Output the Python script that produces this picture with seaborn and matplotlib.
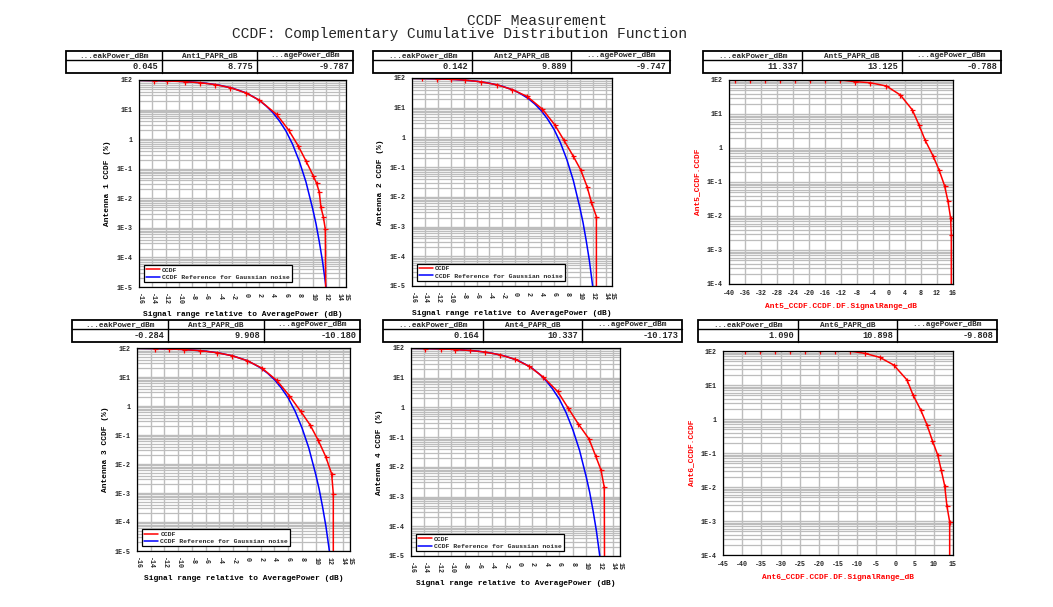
import matplotlib
matplotlib.use("Agg")
import matplotlib.pyplot as plt
import seaborn as sns
from matplotlib.lines import Line2D
from matplotlib.patches import Rectangle
from matplotlib.ticker import FixedLocator, MultipleLocator, LogLocator, NullFormatter

# ---------------- data ----------------
# Gaussian-noise reference curve (blue), same in the four antenna plots
ref_x = [-16, -14, -12, -10, -8, -6, -4, -2, 0, 1, 2, 3, 4, 5, 6, 7, 8, 9, 10, 10.5, 11, 11.5, 12]
ref_y = [97.5, 96, 94, 90.5, 85, 78, 67, 53, 37, 28, 20.5, 13.5, 8.1, 4.2, 1.9, 0.67, 0.18,
         0.036, 0.0045, 0.0014, 0.00034, 0.00007, 0.00001]

ant1_x = [-16, -13.75, -11.8, -9.15, -6.9, -4.6, -2.3, -0.05, 2.0, 4.6, 6.4, 7.85, 9.0, 10.1,
          10.6, 11.0, 11.25, 11.6, 11.9, 11.95]
ant1_y = [97.5, 95.5, 93, 88, 81, 70, 55, 37, 21, 6.9, 2.05, 0.59, 0.184, 0.057, 0.032, 0.016,
          0.0049, 0.0024, 0.0009, 0.00001]

ant2_x = [-16, -14.45, -12.07, -9.9, -7.83, -5.25, -2.82, -0.44, 1.83, 4.2, 6.12, 7.51, 8.96,
          10.15, 11.13, 11.8, 12.58, 12.58]
ant2_y = [97.5, 96.5, 94, 90, 85, 74, 59, 40.5, 24, 9.0, 2.67, 0.83, 0.241, 0.081, 0.0223,
          0.0066, 0.00217, 0.00001]

ant3_x = [-16, -13.34, -11.4, -9.22, -6.8, -4.38, -2.2, -0.02, 2.16, 4.34, 6.18, 7.83, 9.18,
          10.39, 11.46, 12.33, 12.57, 12.57]
ant3_y = [97.5, 95.5, 93, 88.5, 81, 69, 54.5, 37, 20.4, 7.64, 2.26, 0.65, 0.225, 0.0647, 0.0181,
          0.00457, 0.00093, 0.00001]

ant4_x = [-16, -13.92, -11.55, -9.47, -7.25, -5.03, -2.8, -0.58, 1.55, 3.62, 5.75, 7.33, 8.81,
          10.4, 11.39, 12.18, 12.67, 12.7]
ant4_y = [97.5, 96, 93, 89, 82.5, 73, 59, 41.8, 24, 10.5, 3.44, 0.94, 0.279, 0.0869, 0.0232,
          0.0078, 0.00203, 0.00001]

ant5_x = [-40, -38.6, -34.8, -31.1, -27.3, -23.6, -19.8, -16.1, -12.3, -8.4, -4.83, -0.67, 2.83,
          5.83, 7.5, 9.0, 11.0, 12.5, 13.9, 14.75, 15.4, 15.58, 15.58]
ant5_y = [100, 100, 100, 100, 100, 100, 100, 100, 100, 89.4, 83.5, 66.7, 36.3, 13.2, 4.77, 1.73,
          0.587, 0.228, 0.0773, 0.0269, 0.0087, 0.00282, 0.0001]

ant6_x = [-40.5, -39.35, -35.4, -31.5, -27.6, -23.7, -19.8, -15.9, -12.0, -8.04, -4.13, -0.48,
          3.0, 4.57, 6.57, 8.22, 9.61, 11.0, 11.96, 12.83, 13.43, 14.13, 14.13]
ant6_y = [100, 100, 100, 100, 100, 100, 100, 100, 100, 85.4, 65.2, 38.8, 14.1, 5.1, 1.85, 0.671,
          0.233, 0.0883, 0.0306, 0.0109, 0.00268, 0.00095, 0.0001]

table_headers = [
    ["...eakPower_dBm", "Ant1_PAPR_dB", "...agePower_dBm"],
    ["...eakPower_dBm", "Ant2_PAPR_dB", "...agePower_dBm"],
    ["...eakPower_dBm", "Ant5_PAPR_dB", "...agePower_dBm"],
    ["...eakPower_dBm", "Ant3_PAPR_dB", "...agePower_dBm"],
    ["...eakPower_dBm", "Ant4_PAPR_dB", "...agePower_dBm"],
    ["...eakPower_dBm", "Ant6_PAPR_dB", "...agePower_dBm"],
]
table_values = [
    ["0.045", "8.775", "-9.787"],
    ["0.142", "9.889", "-9.747"],
    ["11.337", "13.125", "-0.788"],
    ["-0.284", "9.908", "-10.180"],
    ["0.164", "10.337", "-10.173"],
    ["1.090", "10.898", "-9.808"],
]

left_xticks = [-16, -14, -12, -10, -8, -6, -4, -2, 0, 2, 4, 6, 8, 10, 12, 14, 15]
ant5_xticks = [-40, -36, -32, -28, -24, -20, -16, -12, -8, -4, 0, 4, 8, 12, 16]
ant6_xticks = [-45, -40, -35, -30, -25, -20, -15, -10, -5, 0, 5, 10, 15]
left_ydec = [100, 10, 1, 1e-1, 1e-2, 1e-3, 1e-4, 1e-5]
left_ylabels = ["1E2", "1E1", "1", "1E-1", "1E-2", "1E-3", "1E-4", "1E-5"]
right_ydec = [100, 10, 1, 1e-1, 1e-2, 1e-3, 1e-4]
right_ylabels = ["1E2", "1E1", "1", "1E-1", "1E-2", "1E-3", "1E-4"]

# ---------------- style ----------------
sns.set_style("white")
plt.rcParams['font.family'] = ['Liberation Mono', 'DejaVu Sans Mono']
plt.rcParams['font.weight'] = 'bold'

W, H = 1053, 607
fig = plt.figure(figsize=(W / 100, H / 100), dpi=100)
RED, BLUE = '#ff0000', '#0000ff'
GRID = '#bdbdbd'


def px_axes(x0, y0, x1, y1):
    return fig.add_axes([x0 / W, 1 - y1 / H, (x1 - x0) / W, (y1 - y0) / H])


def draw_table(box, headers, values):
    x0, y0, ydiv, x1, y1 = box
    ax = px_axes(x0, y0, x1, y1)
    ax.set_xlim(0, 3)
    ax.set_ylim(0, 1)
    ax.axis('off')
    frac = (y1 - ydiv) / (y1 - y0)
    ax.add_patch(Rectangle((0, 0), 3, 1, fill=False, lw=1.3, ec='black', clip_on=False))
    ax.plot([0, 3], [frac, frac], color='black', lw=1.0, clip_on=False)
    for i in (1, 2):
        ax.plot([i, i], [0, 1], color='black', lw=1.0, clip_on=False)
    for i, (h, v) in enumerate(zip(headers, values)):
        ax.text(i + 0.5, (1 + frac) / 2, h, ha='center', va='center', fontsize=5.6, weight='bold')
        ax.text(i + 0.96, frac / 2, v, ha='right', va='center', fontsize=6.2, weight='bold')


def draw_panel(box, cx, cy, xlim, xticks, ylow, ydec, ylabels, xlabel, ylabel,
               with_ref, rotate, lab_color, legend_anchor=None):
    ax = px_axes(*box)
    ax.set_yscale('log')
    ax.set_xlim(*xlim)
    ax.set_ylim(ylow, 100)
    ax.yaxis.set_major_locator(FixedLocator(ydec))
    ax.set_yticklabels(ylabels)
    ax.yaxis.set_minor_locator(LogLocator(base=10, subs=[2, 3, 4, 5, 6, 7, 8, 9], numticks=20))
    ax.yaxis.set_minor_formatter(NullFormatter())
    ax.xaxis.set_major_locator(FixedLocator(xticks))
    ax.set_xticklabels([str(t) for t in xticks])
    ax.xaxis.set_minor_locator(MultipleLocator(1))
    ax.grid(True, which='major', color=GRID, lw=1.0)
    ax.grid(True, which='minor', axis='y', color=GRID, lw=0.9)
    ax.set_axisbelow(True)
    ax.tick_params(axis='both', which='major', direction='out', length=3, width=0.8,
                   labelsize=4.8, pad=1.5, color='black')
    ax.tick_params(axis='both', which='minor', direction='out', length=1.5, width=0.6,
                   color='black')
    if rotate:
        for lab in ax.get_xticklabels():
            lab.set_rotation(-90)
    for s in ax.spines.values():
        s.set_color('black')
        s.set_linewidth(0.9)
    if with_ref:
        sns.lineplot(x=ref_x, y=ref_y, ax=ax, color=BLUE, lw=1.1, sort=False,
                     estimator=None, legend=False)
    n = len(cx)
    sns.lineplot(x=cx, y=cy, ax=ax, color=RED, lw=1.1, sort=False, estimator=None,
                 legend=False, marker='+', markersize=3.6, markeredgewidth=0.9,
                 markeredgecolor=RED, markevery=list(range(1, n - 1)))
    ax.set_xlabel(xlabel, fontsize=5.7, weight='bold', color=lab_color, labelpad=4)
    ax.set_ylabel(ylabel, fontsize=5.7, weight='bold', color=lab_color, labelpad=4)
    if legend_anchor is not None:
        handles = [Line2D([], [], color=RED, lw=1.1), Line2D([], [], color=BLUE, lw=1.1)]
        leg = ax.legend(handles, ["CCDF", "CCDF Reference for Gaussian noise"],
                        loc='lower left', bbox_to_anchor=legend_anchor, borderaxespad=0,
                        fontsize=4.6, handlelength=2.2, handletextpad=0.3,
                        borderpad=0.35, labelspacing=0.25, fancybox=False, framealpha=1)
        leg.get_frame().set_edgecolor('black')
        leg.get_frame().set_linewidth(0.9)
    return ax


# ---------------- titles ----------------
fig.text(537 / W, 1 - 21 / H, "CCDF Measurement", ha='center', va='center',
         fontsize=10.5, weight='normal')
fig.text(460 / W, 1 - 34 / H, "CCDF: Complementary Cumulative Distribution Function",
         ha='center', va='center', fontsize=10.5, weight='normal')

# ---------------- tables ----------------
table_boxes = [
    (66, 51, 60, 353, 73),
    (373, 51, 60, 670, 73),
    (703, 51, 60, 1001, 73),
    (72, 320, 329, 360, 342),
    (383, 320, 329, 682, 342),
    (698, 320, 329, 997, 342),
]
for b, h, v in zip(table_boxes, table_headers, table_values):
    draw_table(b, h, v)

# ---------------- plots ----------------
xl = "Signal range relative to AveragePower (dB)"
draw_panel((139, 80, 346, 287), ant1_x, ant1_y, (-16, 15), left_xticks, 1e-5, left_ydec,
           left_ylabels, xl, "Antenna 1 CCDF (%)", True, True, 'black', (0.024, 0.024))
draw_panel((412, 78, 612, 286), ant2_x, ant2_y, (-16, 15), left_xticks, 1e-5, left_ydec,
           left_ylabels, xl, "Antenna 2 CCDF (%)", True, True, 'black', (0.025, 0.025))
draw_panel((729, 80, 953, 284), ant5_x, ant5_y, (-40, 16), ant5_xticks, 1e-4, right_ydec,
           right_ylabels, "Ant5_CCDF.CCDF.DF.SignalRange_dB", "Ant5_CCDF.CCDF", False, False,
           RED)
draw_panel((137, 348, 350, 551), ant3_x, ant3_y, (-16, 15), left_xticks, 1e-5, left_ydec,
           left_ylabels, xl, "Antenna 3 CCDF (%)", True, True, 'black', (0.024, 0.024))
draw_panel((411, 348, 620, 556), ant4_x, ant4_y, (-16, 15), left_xticks, 1e-5, left_ydec,
           left_ylabels, xl, "Antenna 4 CCDF (%)", True, True, 'black', (0.024, 0.024))
draw_panel((723, 351, 953, 555), ant6_x, ant6_y, (-45, 15), ant6_xticks, 1e-4, right_ydec,
           right_ylabels, "Ant6_CCDF.CCDF.DF.SignalRange_dB", "Ant6_CCDF.CCDF", False, False,
           RED)

fig.savefig("out.png", dpi=100, facecolor='white')
